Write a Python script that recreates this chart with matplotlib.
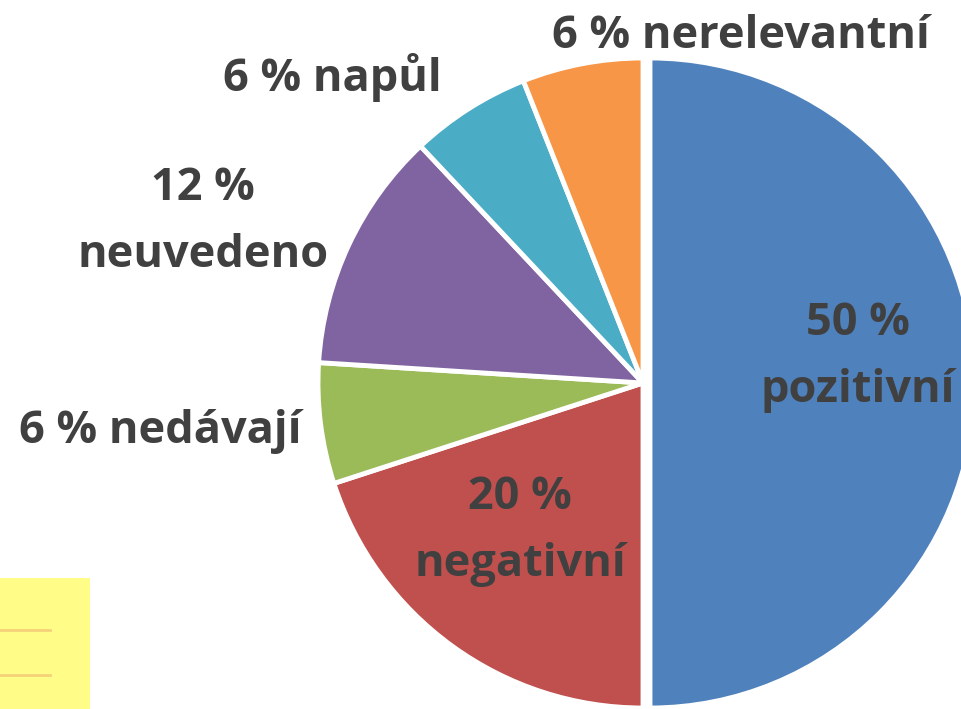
import matplotlib
matplotlib.use("Agg")
import matplotlib.pyplot as plt
from matplotlib.patches import Rectangle

categories = ["pozitivní", "negativní", "nedávají", "neuvedeno", "napůl", "nerelevantní"]
values = [50, 20, 6, 12, 6, 6]
label_texts = ["50 %\npozitivní", "20 %\nnegativní", "6 % nedávají",
               "12 %\nneuvedeno", "6 % napůl", "6 % nerelevantní"]
colors = ["#4F81BD", "#C0504D", "#9BBB59", "#8064A2", "#4BACC6", "#F79646"]

W, H = 961, 709
fig = plt.figure(figsize=(W / 100, H / 100), dpi=100)
ax = fig.add_axes([0, 0, 1, 1])
ax.set_xlim(0, W)
ax.set_ylim(0, H)
ax.axis("off")

cx, cy, r = 643, H - 383, 325
# explode offset is in data units (pixels here)
explode = [7, 0, 0, 0, 0, 0]
ax.pie(values, colors=colors, startangle=90, counterclock=False,
       center=(cx, cy), radius=r, explode=explode,
       wedgeprops=dict(edgecolor="white", linewidth=3.5), frame=False)
ax.set_xlim(0, W)
ax.set_ylim(0, H)
ax.set_aspect("equal")

# label positions in pixel coordinates (from top)
label_pos = [(858, 357), (520, 531), (160, 432), (203, 222), (332, 78), (741, 37)]
for txt, (x, y) in zip(label_texts, label_pos):
    ax.text(x, H - y, txt, ha="center", va="center", fontsize=32.5,
            fontweight="bold", color="#404040", family="Open Sans",
            linespacing=1.62)

# sticky note artifact bottom-left
ax.add_patch(Rectangle((0, 0), 90, H - 578, facecolor="#FFFC87", edgecolor="none", zorder=0))
ax.plot([0, 50], [H - 630, H - 630], color="#F5D27A", lw=2, zorder=1)
ax.plot([0, 50], [H - 675, H - 675], color="#F5D27A", lw=2, zorder=1)

fig.savefig("out.png", dpi=100)
